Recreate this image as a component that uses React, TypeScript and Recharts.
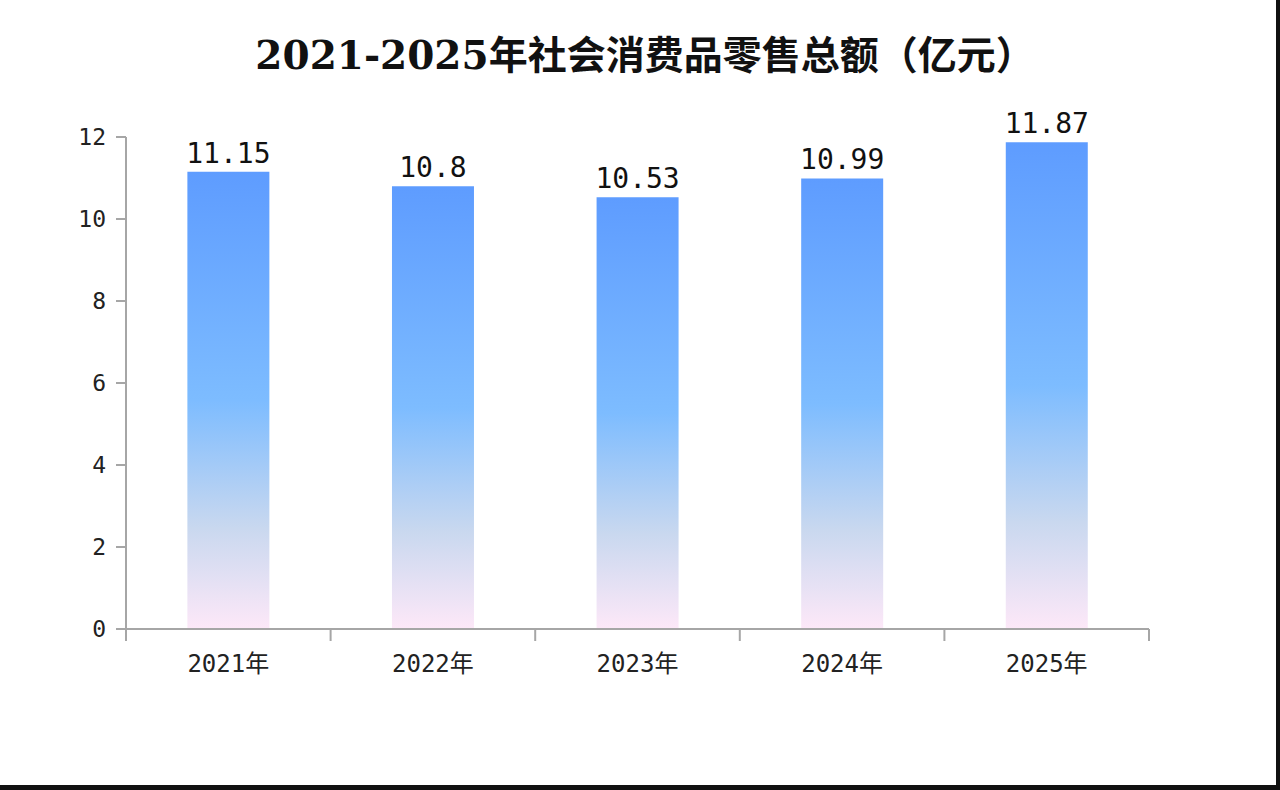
import React from "react"
import { Bar, BarChart, LabelList, XAxis, YAxis } from "recharts"

const years = ["2021年", "2022年", "2023年", "2024年", "2025年"]
const totals = [11.15, 10.8, 10.53, 10.99, 11.87]
const yTicks = [0, 2, 4, 6, 8, 10, 12]

const data = years.map((year, i) => ({ year, total: totals[i] }))

const monoFont = "'DejaVu Sans Mono', 'Noto Sans CJK SC', monospace"
const axisGray = "#a6a6a6"
const X_TICK = 12
const X_MARGIN = 12

function YearTick(props: any) {
  const { x, y, payload, index, width } = props
  const half = width / years.length / 2
  const axisY = y - X_TICK - X_MARGIN
  const left = x - half
  return (
    <g>
      <line x1={left} y1={axisY} x2={left} y2={axisY + X_TICK} stroke={axisGray} strokeWidth={2} />
      {index === years.length - 1 && (
        <line x1={x + half} y1={axisY} x2={x + half} y2={axisY + X_TICK} stroke={axisGray} strokeWidth={2} />
      )}
      <text x={x} y={y} dy="0.78em" textAnchor="middle" fill="#222" fontSize={24} fontFamily={monoFont}>
        {payload.value}
      </text>
    </g>
  )
}

export default function App() {
  return (
    <div
      style={{
        position: "absolute",
        left: 0,
        top: 0,
        width: 1280,
        height: 790,
        background: "#fff",
        boxSizing: "border-box",
        borderRight: "4px solid #111",
        borderBottom: "5px solid #111",
        overflow: "hidden",
      }}
    >
      <svg width={1276} height={100} style={{ position: "absolute", left: 0, top: 0 }}>
        <text
          x={645}
          y={69}
          textAnchor="middle"
          fontSize={39}
          fontWeight="bold"
          fill="#111"
          fontFamily="'DejaVu Serif', 'Noto Sans CJK SC', serif"
        >
          2021-2025年社会消费品零售总额（亿元）
        </text>
      </svg>
      <div style={{ position: "absolute", left: 0, top: 0 }}>
        <BarChart
          width={1276}
          height={785}
          data={data}
          margin={{ top: 137, right: 127, bottom: 111, left: 66 }}
          barCategoryGap="30%"
        >
          <defs>
            <linearGradient id="barFill" x1="0" y1="0" x2="0" y2="1">
              <stop offset="0%" stopColor="#5e9cff" />
              <stop offset="50%" stopColor="#7dbcff" />
              <stop offset="78%" stopColor="#c9d8ef" />
              <stop offset="100%" stopColor="#fde8f8" />
            </linearGradient>
          </defs>
          <XAxis
            dataKey="year"
            height={45}
            tickLine={false}
            tickSize={X_TICK}
            tickMargin={X_MARGIN}
            axisLine={{ stroke: axisGray, strokeWidth: 2 }}
            tick={<YearTick />}
            interval={0}
          />
          <YAxis
            width={60}
            domain={[0, 12]}
            ticks={yTicks}
            tickSize={10}
            tickMargin={10}
            axisLine={{ stroke: axisGray, strokeWidth: 2 }}
            tickLine={{ stroke: axisGray, strokeWidth: 2 }}
            tick={{ fill: "#222", fontSize: 23, fontFamily: monoFont }}
          />
          <Bar dataKey="total" fill="url(#barFill)" isAnimationActive={false}>
            <LabelList
              dataKey="total"
              position="top"
              offset={9}
              fill="#111"
              fontSize={28}
              fontFamily={monoFont}
            />
          </Bar>
        </BarChart>
      </div>
    </div>
  )
}
